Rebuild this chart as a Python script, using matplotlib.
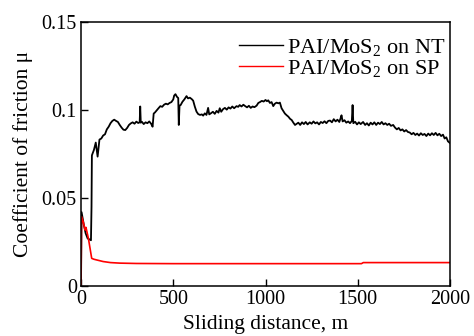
import matplotlib
matplotlib.use("Agg")
import matplotlib.pyplot as plt

# ---- data ----
nt_x = [0, 3, 15, 25, 36, 45, 54, 57, 59,
        60, 70, 80, 90, 100, 110, 120, 130, 140, 150, 160, 170, 180, 190, 200,
        210, 220, 230, 240, 250, 260, 270, 280, 290, 300, 310, 318, 321, 324,
        330, 340, 350, 360, 370, 380, 388, 394, 400, 410, 420, 430, 440, 450,
        460, 470, 480, 490, 500, 505, 512, 520, 527, 530, 534, 540, 550, 560,
        572, 580, 590, 600, 608, 617, 626, 635, 645, 655, 662, 671, 680, 689,
        695, 705, 715, 725, 735, 745, 752, 760, 770, 780, 790, 800, 810, 820,
        830, 843, 852, 860, 870, 880, 890, 900, 910, 920, 930, 940, 952, 961,
        970, 980, 990, 1000, 1008, 1015, 1024, 1033, 1042, 1050, 1060, 1070,
        1078, 1087, 1096, 1105, 1115, 1124, 1133, 1142, 1151, 1160, 1170, 1178,
        1188, 1198, 1208, 1218, 1228, 1240, 1250, 1260, 1270, 1280, 1290, 1300,
        1310, 1320, 1330, 1340, 1350, 1360, 1370, 1380, 1390, 1400, 1406, 1412,
        1418, 1428, 1438, 1448, 1458, 1468, 1472, 1476, 1486, 1496, 1506, 1516,
        1529, 1540, 1550, 1560, 1570, 1580, 1590, 1600, 1610, 1620, 1630, 1640,
        1650, 1660, 1670, 1680, 1692, 1702, 1712, 1722, 1732, 1742, 1752, 1762,
        1772, 1782, 1792, 1802, 1812, 1822, 1832, 1842, 1852, 1862, 1872, 1882,
        1892, 1902, 1912, 1922, 1932, 1942, 1952, 1962, 1971, 1980, 1989, 2000]
nt_mu = [0.0, 0.042, 0.035, 0.030, 0.027, 0.0265, 0.026, 0.045, 0.074,
         0.0745, 0.0773, 0.0815, 0.0735, 0.0832, 0.0838, 0.0855, 0.0862, 0.0890,
         0.0905, 0.0925, 0.0938, 0.0945, 0.0938, 0.0932,
         0.0915, 0.0900, 0.0888, 0.0886, 0.0898, 0.0915, 0.0924, 0.0930, 0.0922,
         0.0934, 0.0926, 0.0930, 0.1020, 0.0928,
         0.0933, 0.0920, 0.0930, 0.0925, 0.0935, 0.0922, 0.0905, 0.0980, 0.0985,
         0.0998, 0.1010, 0.1022, 0.1018, 0.1030,
         0.1036, 0.1032, 0.1040, 0.1045, 0.1060, 0.1082, 0.1090, 0.1075, 0.1068,
         0.0915, 0.1025, 0.1028, 0.1047, 0.1060,
         0.1079, 0.1066, 0.1070, 0.1062, 0.1053, 0.1019, 0.0991, 0.0977, 0.0972,
         0.0975, 0.0968, 0.0981, 0.0972, 0.1012,
         0.0975, 0.0982, 0.0990, 0.0978, 0.0995, 0.0985, 0.1010, 0.0990, 0.1005,
         0.1012, 0.1002, 0.1015, 0.1008, 0.1020,
         0.1010, 0.1022, 0.1018, 0.1028, 0.1020, 0.1030, 0.1022, 0.1015, 0.1024,
         0.1012, 0.1020, 0.1016, 0.1025, 0.1040,
         0.1045, 0.1052, 0.1048, 0.1057, 0.1050, 0.1055, 0.1040, 0.1045, 0.1022,
         0.1035, 0.1042, 0.1038,
         0.1042, 0.1010, 0.0995, 0.0980, 0.0970, 0.0962, 0.0950, 0.0943, 0.0928,
         0.0915, 0.0922, 0.0928,
         0.0915, 0.0930, 0.0920, 0.0932, 0.0918, 0.0930, 0.0922, 0.0935, 0.0924,
         0.0930, 0.0918, 0.0932,
         0.0926, 0.0936, 0.0925, 0.0938, 0.0940, 0.0930, 0.0948, 0.0935, 0.0945,
         0.0932, 0.0950, 0.0970,
         0.0935, 0.0942, 0.0928, 0.0935, 0.0925, 0.0938, 0.1028, 0.0925, 0.0933,
         0.0918, 0.0930, 0.0920,
         0.0932, 0.0915, 0.0925, 0.0912, 0.0928, 0.0918, 0.0930, 0.0915, 0.0928,
         0.0920, 0.0932, 0.0918,
         0.0925, 0.0915, 0.0922, 0.0910, 0.0915, 0.0900, 0.0890, 0.0898, 0.0884,
         0.0890, 0.0878, 0.0886,
         0.0875, 0.0872, 0.0862, 0.0870, 0.0858, 0.0866, 0.0855, 0.0868, 0.0858,
         0.0864, 0.0852, 0.0866,
         0.0856, 0.0868, 0.0858, 0.0870, 0.0856, 0.0865, 0.0852, 0.0860, 0.0838,
         0.0845, 0.0822, 0.0812]

sp_x = [0, 3, 12, 22, 27, 40, 49, 58, 70, 85, 120, 160, 210, 300, 500,
        1000, 1520, 1530, 2000]
sp_mu = [0.0, 0.0394, 0.0365, 0.0318, 0.0333, 0.0271, 0.0214, 0.0157, 0.0152,
         0.0148, 0.0139, 0.0133, 0.0130, 0.0128, 0.0127, 0.0127, 0.0127,
         0.0133, 0.0133]

labels = ["PAI/MoS$_2$ on NT", "PAI/MoS$_2$ on SP"]
x_ticks = [0, 500, 1000, 1500, 2000]
y_ticks = [0, 0.05, 0.1, 0.15]
y_tick_labels = ["0", "0.05", "0.1", "0.15"]

plt.rcParams["font.family"] = ["Liberation Serif", "DejaVu Serif"]
plt.rcParams["mathtext.fontset"] = "custom"
plt.rcParams["mathtext.rm"] = "Liberation Serif"
plt.rcParams["mathtext.it"] = "Liberation Serif:italic"

fig = plt.figure(figsize=(4.74, 3.36), dpi=100)
ax = fig.add_axes([81/474, 1-286/336, (450-81)/474, (286-22)/336])

ax.plot(nt_x, nt_mu, color="black", lw=1.3, label=labels[0])
ax.plot(sp_x, sp_mu, color="#ff0000", lw=1.2, label=labels[1])

ax.set_xlim(0, 2000)
ax.set_ylim(0, 0.15)
ax.set_xticks(x_ticks)
ax.set_xticklabels([str(t) for t in x_ticks])
ax.set_yticks(y_ticks)
ax.set_yticklabels(y_tick_labels)
ax.tick_params(direction="in", length=5, width=1, labelsize=14.5, pad=3,
               top=False, right=False)
for s in ax.spines.values():
    s.set_linewidth(1.1)

ax.set_xlabel("Sliding distance, m", fontsize=15.5, labelpad=4)
ax.set_ylabel("Coefficient of friction μ", fontsize=15.5, labelpad=6)

leg = ax.legend(loc="upper right", bbox_to_anchor=(1.019, 0.985), frameon=False,
                fontsize=16, handlelength=2.0, handletextpad=0.2, labelspacing=0.0,
                borderaxespad=0.3, borderpad=0.2)
for h in leg.legend_handles:
    h.set_linewidth(1.0)

fig.savefig("out.png", dpi=100)
